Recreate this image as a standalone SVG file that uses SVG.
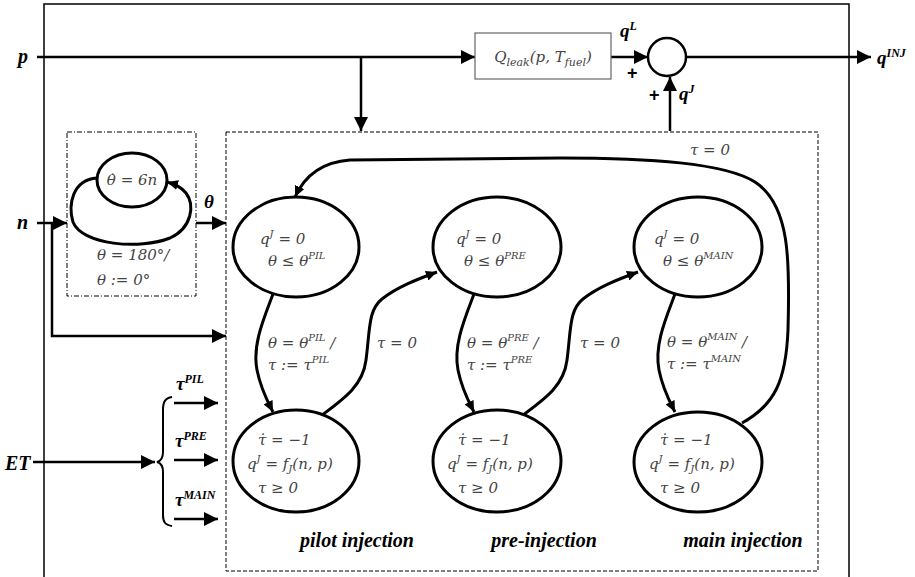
<svg xmlns="http://www.w3.org/2000/svg" width="915" height="577" viewBox="0 0 915 577">
<defs>
<style>
.frame{fill:none;stroke:#000;stroke-width:1.5}
.dash{fill:none;stroke:#000;stroke-width:1;stroke-dasharray:4,2}
.dashdot{fill:none;stroke:#000;stroke-width:1;stroke-dasharray:5,2,1,2}
.st{fill:#fff;stroke:#000;stroke-width:3}
.ln{fill:none;stroke:#000;stroke-width:2.5}
.tr{fill:none;stroke:#000;stroke-width:3}
.m{font-family:'DejaVu Serif','Liberation Serif',serif;font-style:italic;font-size:15px;fill:#444}
.b{font-family:'Liberation Serif','DejaVu Serif',serif;font-style:italic;font-weight:bold;font-size:19px;fill:#000}
.lbl{font-family:'Liberation Serif','DejaVu Serif',serif;font-style:italic;font-weight:bold;font-size:20px;fill:#000}
.plus{font-family:'Liberation Sans',sans-serif;font-weight:bold;font-size:18px;fill:#000}
</style>
<marker id="ah" markerUnits="userSpaceOnUse" markerWidth="16" markerHeight="14" refX="14" refY="7" orient="auto">
<path d="M0,0 L14,7 L0,14 z" fill="#000"/>
</marker>
<marker id="as" markerUnits="userSpaceOnUse" markerWidth="12" markerHeight="10" refX="11" refY="5" orient="auto">
<path d="M0,0 L11,5 L0,10 z" fill="#000"/>
</marker>
</defs>
<rect width="915" height="577" fill="#fff"/>
<path class="frame" d="M44,580 L44,4 L849,4 L849,580"/>

<g id="main-box"><rect class="dash" x="226" y="132" width="592" height="439"/></g>
<g id="theta-box"><rect class="dashdot" x="67" y="132" width="129" height="164"/></g>

<g id="connectors">
<path class="ln" d="M37,57 L475,57" marker-end="url(#ah)"/>
<path class="ln" d="M361,57 L361,131" stroke-width="2" marker-end="url(#ah)"/>
<path class="ln" d="M611,57 L648,57" marker-end="url(#ah)"/>
<path class="ln" d="M687,57 L871,57" marker-end="url(#ah)"/>
<path class="ln" d="M670,131 L670,77" stroke-width="2" marker-end="url(#ah)"/>
<path class="ln" d="M37,223 L67,223" stroke-width="2" marker-end="url(#ah)"/>
<path class="ln" d="M52,223 L52,336 L226,336" stroke-width="2" marker-end="url(#ah)"/>
<path class="ln" d="M196,223 L226,223" stroke-width="2" marker-end="url(#ah)"/>
<path class="ln" d="M33,462 L155,462" stroke-width="2" marker-end="url(#ah)"/>
<path class="ln" d="M174,403 L218,403" marker-end="url(#ah)"/>
<path class="ln" d="M174,460 L218,460" marker-end="url(#ah)"/>
<path class="ln" d="M174,519 L218,519" marker-end="url(#ah)"/>
<path fill="none" stroke="#000" stroke-width="2" d="M172,397 C165,398 163,402 163,410 L163,452 C163,458 161,461 157,462 C161,463 163,466 163,472 L163,515 C163,522 165,525 172,526"/>
<path class="tr" d="M97,178 C72,180 68,205 73,222 C82,245 140,250 170,238 C192,228 195,205 186,193 C180,186 174,184 167,182" marker-end="url(#as)"/>
<path class="tr" d="M273,294 C264,318 252,345 257,370 C261,390 268,402 273,412" marker-end="url(#as)"/>
<path class="tr" d="M322,415 C345,398 363,385 366,360 C370,330 368,310 382,299 C397,287 418,279 437,272" marker-end="url(#as)"/>
<path class="tr" d="M474,294 C465,318 453,345 458,370 C462,390 469,402 474,412" marker-end="url(#as)"/>
<path class="tr" d="M523,415 C546,398 564,385 567,360 C571,330 569,310 583,299 C598,287 619,279 638,272" marker-end="url(#as)"/>
<path class="tr" d="M675,294 C666,318 654,345 659,370 C663,390 670,402 675,412" marker-end="url(#as)"/>
<path class="tr" d="M742,423 C775,405 786,380 788,330 C790,260 790,205 755,182 C725,163 650,158 560,158 L350,160 C322,162 305,175 295,197" marker-end="url(#as)"/>
</g>

<g id="in-p"><text class="lbl" x="18" y="63">p</text></g>
<g id="in-n"><text class="lbl" x="17" y="229">n</text></g>
<g id="in-et"><text class="lbl" x="5" y="470" font-size="22">ET</text></g>
<g id="qleak"><rect x="475" y="33" width="136" height="46" fill="#fff" stroke="#666" stroke-width="1.2"/><text class="m" x="543" y="62" text-anchor="middle" font-size="17">Q<tspan font-size="11" dy="4">leak</tspan><tspan dy="-4">(p, T</tspan><tspan font-size="11" dy="4">fuel</tspan><tspan dy="-4">)</tspan></text></g>
<g id="sum"><circle cx="667" cy="57" r="19" fill="#fff" stroke="#000" stroke-width="2.5"/></g>
<g id="labels-sum">
<text class="b" x="620" y="37">q<tspan font-size="12" dy="-7">L</tspan></text>
<text class="plus" x="627" y="79">+</text>
<text class="plus" x="649" y="101">+</text>
<text class="b" x="679" y="100">q<tspan font-size="12" dy="-7">J</tspan></text>
<text class="b" x="877" y="64">q<tspan font-size="12" dy="-7">INJ</tspan></text>
<text class="b" x="204" y="208">θ</text>
</g>

<g id="theta-int"><ellipse class="st" cx="132" cy="180" rx="35" ry="27"/><text class="m" x="132" y="185" text-anchor="middle">θ̇ = 6n</text></g>
<g id="theta-reset"><text class="m" x="97" y="260">θ = 180°/</text><text class="m" x="97" y="285">θ := 0°</text></g>

<g id="pil-wait"><ellipse class="st" cx="296" cy="247" rx="63" ry="50"/><text class="m" x="260" y="244">q<tspan font-size="10" dy="-7">J</tspan><tspan dy="7"> = 0</tspan></text><text class="m" x="268" y="266">θ ≤ θ<tspan font-size="10" dy="-7">PIL</tspan></text></g>
<g id="pre-wait"><ellipse class="st" cx="497" cy="247" rx="64" ry="50"/><text class="m" x="456" y="244">q<tspan font-size="10" dy="-7">J</tspan><tspan dy="7"> = 0</tspan></text><text class="m" x="464" y="266">θ ≤ θ<tspan font-size="10" dy="-7">PRE</tspan></text></g>
<g id="main-wait"><ellipse class="st" cx="698" cy="247" rx="64" ry="50"/><text class="m" x="654" y="244">q<tspan font-size="10" dy="-7">J</tspan><tspan dy="7"> = 0</tspan></text><text class="m" x="663" y="266">θ ≤ θ<tspan font-size="10" dy="-7">MAIN</tspan></text></g>

<g id="pil-inj"><ellipse class="st" cx="296" cy="461" rx="63" ry="51"/><text class="m" x="258" y="445">τ̇ = −1</text><text class="m" x="247" y="469">q<tspan font-size="10" dy="-7">J</tspan><tspan dy="7"> = f</tspan><tspan font-size="10" dy="3">J</tspan><tspan dy="-3">(n, p)</tspan></text><text class="m" x="258" y="493">τ ≥ 0</text></g>
<g id="pre-inj"><ellipse class="st" cx="497" cy="461" rx="64" ry="51"/><text class="m" x="458" y="445">τ̇ = −1</text><text class="m" x="447" y="469">q<tspan font-size="10" dy="-7">J</tspan><tspan dy="7"> = f</tspan><tspan font-size="10" dy="3">J</tspan><tspan dy="-3">(n, p)</tspan></text><text class="m" x="458" y="493">τ ≥ 0</text></g>
<g id="main-inj"><ellipse class="st" cx="698" cy="462" rx="64" ry="50"/><text class="m" x="660" y="445">τ̇ = −1</text><text class="m" x="649" y="469">q<tspan font-size="10" dy="-7">J</tspan><tspan dy="7"> = f</tspan><tspan font-size="10" dy="3">J</tspan><tspan dy="-3">(n, p)</tspan></text><text class="m" x="660" y="493">τ ≥ 0</text></g>

<g id="transition-labels">
<text class="m" x="268" y="348">θ = θ<tspan font-size="10" dy="-7">PIL</tspan><tspan dy="7"> /</tspan></text>
<text class="m" x="268" y="370">τ := τ<tspan font-size="10" dy="-7">PIL</tspan></text>
<text class="m" x="377" y="348">τ = 0</text>
<text class="m" x="467" y="348">θ = θ<tspan font-size="10" dy="-7">PRE</tspan><tspan dy="7"> /</tspan></text>
<text class="m" x="467" y="370">τ := τ<tspan font-size="10" dy="-7">PRE</tspan></text>
<text class="m" x="580" y="348">τ = 0</text>
<text class="m" x="667" y="347">θ = θ<tspan font-size="10" dy="-7">MAIN</tspan><tspan dy="7"> /</tspan></text>
<text class="m" x="667" y="369">τ := τ<tspan font-size="10" dy="-7">MAIN</tspan></text>
<text class="m" x="690" y="155">τ = 0</text>
</g>

<g id="tau-labels">
<text class="b" x="176" y="390">τ<tspan font-size="12" dy="-7">PIL</tspan></text>
<text class="b" x="175" y="447">τ<tspan font-size="12" dy="-7">PRE</tspan></text>
<text class="b" x="175" y="506">τ<tspan font-size="12" dy="-7">MAIN</tspan></text>
</g>

<g id="phase-labels">
<text class="lbl" x="357" y="547" text-anchor="middle">pilot injection</text>
<text class="lbl" x="544" y="547" text-anchor="middle">pre-injection</text>
<text class="lbl" x="743" y="547" text-anchor="middle">main injection</text>
</g>
</svg>
